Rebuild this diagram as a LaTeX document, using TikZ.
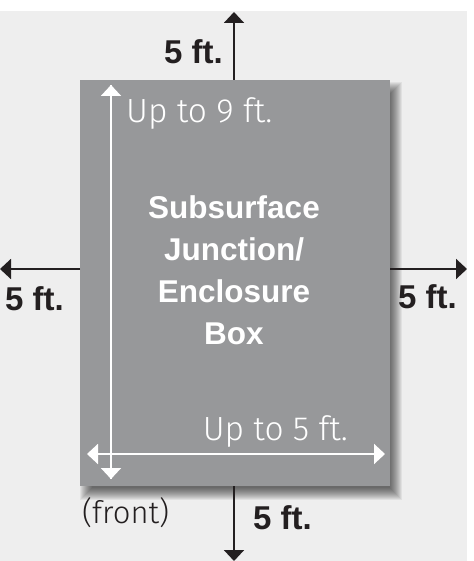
\documentclass[tikz,border=0pt]{standalone}
\usepackage{fontspec}
\setmainfont{Liberation Sans}
\newfontfamily\lightfont{Fira Sans Light}
\usetikzlibrary{arrows.meta}
\definecolor{bggray}{HTML}{EEEEEE}
\definecolor{boxgray}{HTML}{97989A}
\definecolor{inkblack}{HTML}{231F20}
\tikzset{
  blackarrow/.style={draw=inkblack, line width=2bp, -{Triangle[width=20bp,length=11bp]}},
  whitearrow/.style={draw=white, line width=2bp, -{Triangle[width=20bp,length=11bp]}},
  whitedouble/.style={draw=white, line width=2bp, {Triangle[width=20bp,length=11bp]}-{Triangle[width=20bp,length=11bp]}},
  boldlabel/.style={inner sep=0pt, text=inkblack, font=\fontsize{33bp}{40bp}\selectfont\bfseries},
  lightlabel/.style={inner sep=0pt, font=\fontsize{33.5bp}{40bp}\selectfont\lightfont},
  frontlabel/.style={inner sep=0pt, text=inkblack, font=\fontsize{31bp}{38bp}\selectfont\lightfont},
  centertext/.style={inner sep=0pt, text=white, align=center, font=\fontsize{31.5bp}{42bp}\selectfont\bfseries}
}
\begin{document}
\begin{tikzpicture}[x=1bp,y=-1bp]
\useasboundingbox (0,0) rectangle (474,561);
\fill[white] (0,0) rectangle (474,561);
\fill[bggray] (0,11) rectangle (467,561);
% shadow
\foreach \r in {-6,...,6}{
  \fill[black, opacity=0.06] (86-\r,88-\r) rectangle (396+\r,494+\r);
}
% box
\node[draw=none, fill=boxgray, minimum width=310bp, minimum height=406bp, inner sep=0pt, anchor=north west] (box) at (80,80) {};
% coordinates for outer arrows
\coordinate (topstart) at (234,80);
\coordinate (topend) at (234,12);
\coordinate (leftstart) at (80,269);
\coordinate (leftend) at (0,269);
\coordinate (rightstart) at (390,269);
\coordinate (rightend) at (467,269);
\coordinate (botstart) at (234,486);
\coordinate (botend) at (234,561);
\draw[blackarrow] (topstart) -- (topend);
\draw[blackarrow] (leftstart) -- (leftend);
\draw[blackarrow] (rightstart) -- (rightend);
\draw[blackarrow] (botstart) -- (botend);
% inner arrows
\coordinate (vtop) at (111,85);
\coordinate (vbot) at (111,479);
\coordinate (hleft) at (87,454);
\coordinate (hright) at (385,454);
\draw[whitearrow] (vbot) -- (vtop);
\draw[whitearrow] (vtop) -- (vbot);
\draw[whitedouble] (hleft) -- (hright);
% labels
\node[boldlabel, anchor=base east] (ltop) at (223,64) {5 ft.};
\node[boldlabel, anchor=base west] (lleft) at (5,310) {5 ft.};
\node[boldlabel, anchor=base west] (lright) at (398,308) {5 ft.};
\node[boldlabel, anchor=base west] (lbot) at (253,529) {5 ft.};
\node[frontlabel, anchor=base west] (front) at (82,523) {(front)};
\node[lightlabel, text=white, anchor=base west] (up9) at (126,123) {Up to 9 ft.};
\node[lightlabel, text=white, anchor=base east] (up5) at (348,440) {Up to 5 ft.};
\node[centertext, anchor=north] (title) at (234,195) {Subsurface\\Junction/\\Enclosure\\Box};
\end{tikzpicture}
\end{document}
